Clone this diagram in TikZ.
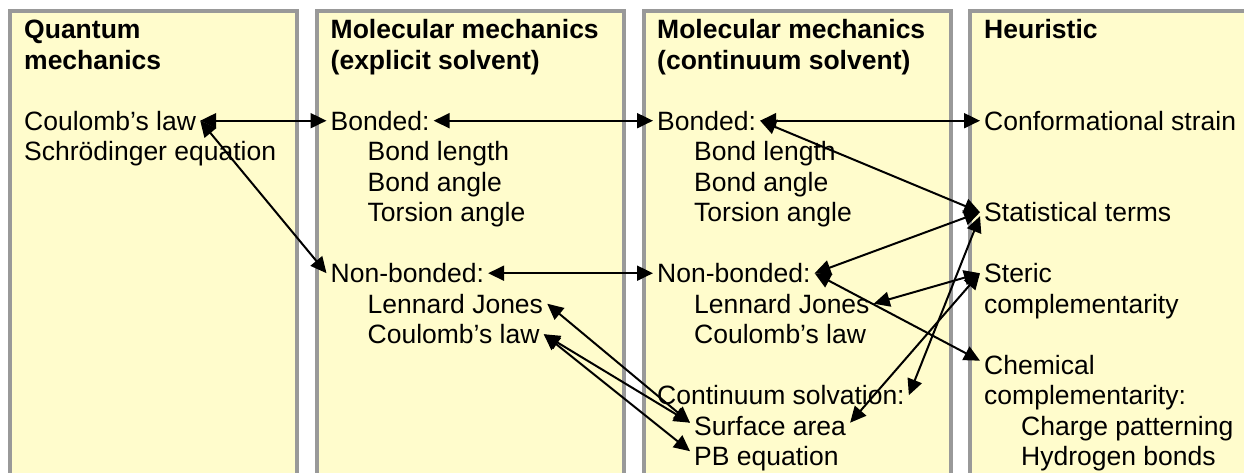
\documentclass[tikz,border=0pt]{standalone}
\usepackage{fontspec}
\setmainfont{Liberation Sans}
\usepackage{xcolor}
\usepackage{tikz}
\usetikzlibrary{arrows.meta}

\begin{document}
\begin{tikzpicture}[
  x=1pt, y=-1pt,
  panel/.style={draw=black!40, fill=yellow!20, line width=4pt},
  txt/.style={anchor=base west, inner xsep=4pt, inner ysep=0pt,
    text height=18.6pt, text depth=0pt, font=\fontsize{26.5}{30.5}\selectfont},
  head/.style={txt, font=\fontsize{26.5}{30.5}\selectfont\bfseries},
  link/.style={{Triangle[length=16pt,width=15pt]}-{Triangle[length=16pt,width=15pt]},
    line width=2pt}
]
  \useasboundingbox (0,0) rectangle (1244,472);
  \clip (0,0) rectangle (1244,472);

  % four columns, open at the bottom
  \draw[panel] (10,11) rectangle (297,500);
  \draw[panel] (317,11) rectangle (623.5,500);
  \draw[panel] (644,11) rectangle (951,500);
  \draw[panel] (970,11) rectangle (1270,500);

  % quantum mechanics
  \node[head] (hqm1) at (20,38.5) {Quantum};
  \node[head] (hqm2) at (20,69) {mechanics};
  \node[txt] (qcoul) at (20,130) {Coulomb's law};
  \node[txt] (qschr) at (20,160.5) {Schrödinger equation};

  % explicit solvent
  \node[head] (hex1) at (326.5,38.5) {Molecular mechanics};
  \node[head] (hex2) at (326.5,69) {(explicit solvent)};
  \node[txt] (ebond) at (326.5,130) {Bonded:};
  \node[txt] (elen) at (363.5,160.5) {Bond length};
  \node[txt] (eang) at (363.5,191) {Bond angle};
  \node[txt] (etor) at (363.5,221.5) {Torsion angle};
  \node[txt] (enon) at (326.5,282.5) {Non-bonded:};
  \node[txt] (elj) at (363.5,313) {Lennard Jones};
  \node[txt] (ecoul) at (363.5,343.5) {Coulomb's law};

  % continuum solvent
  \node[head] (hco1) at (653,38.5) {Molecular mechanics};
  \node[head] (hco2) at (653,69) {(continuum solvent)};
  \node[txt] (cbond) at (653,130) {Bonded:};
  \node[txt] (clen) at (690,160.5) {Bond length};
  \node[txt] (cang) at (690,191) {Bond angle};
  \node[txt] (ctor) at (690,221.5) {Torsion angle};
  \node[txt] (cnon) at (653,282.5) {Non-bonded:};
  \node[txt] (clj) at (690,313) {Lennard Jones};
  \node[txt] (ccoul) at (690,343.5) {Coulomb's law};
  \node[txt] (csolv) at (653,404.5) {Continuum solvation:};
  \node[txt] (csurf) at (690,435) {Surface area};
  \node[txt] (cpb) at (690,465.5) {PB equation};

  % heuristic
  \node[head] (hheur) at (980,38.5) {Heuristic};
  \node[txt] (strain) at (980,130) {Conformational strain};
  \node[txt] (stat) at (980,221.5) {Statistical terms};
  \node[txt] (steric) at (980,282.5) {Steric};
  \node[txt] (steric2) at (980,313) {complementarity};
  \node[txt] (chem) at (980,374) {Chemical};
  \node[txt] (chem2) at (980,404.5) {complementarity:};
  \node[txt] (charge) at (1017,435) {Charge patterning};
  \node[txt] (hbond) at (1017,465.5) {Hydrogen bonds};

  \draw[link] (qcoul.east) -- (ebond.west);
  \draw[link] (qcoul.east) -- (enon.west);
  \draw[link] (ebond.east) -- (cbond.west);
  \draw[link] (enon.east) -- (cnon.west);
  \draw[link] (cbond.east) -- (strain.west);
  \draw[link] (cbond.east) -- (stat.west);
  \draw[link] (stat.west) -- (cnon.east);
  \draw[link] ([yshift=-4pt]stat.west) -- (csolv.east);
  \draw[link] (steric.west) -- (clj.east);
  \draw[link] (steric.west) -- ([yshift=3pt]csurf.east);
  \draw[link] (cnon.east) -- ([yshift=4pt]chem.west);
  \draw[link] (elj.east) -- ([yshift=3pt]csurf.west);
  \draw[link] (ecoul.east) -- ([yshift=3pt]csurf.west);
  \draw[link] (ecoul.east) -- ([yshift=5pt]cpb.west);
\end{tikzpicture}
\end{document}
